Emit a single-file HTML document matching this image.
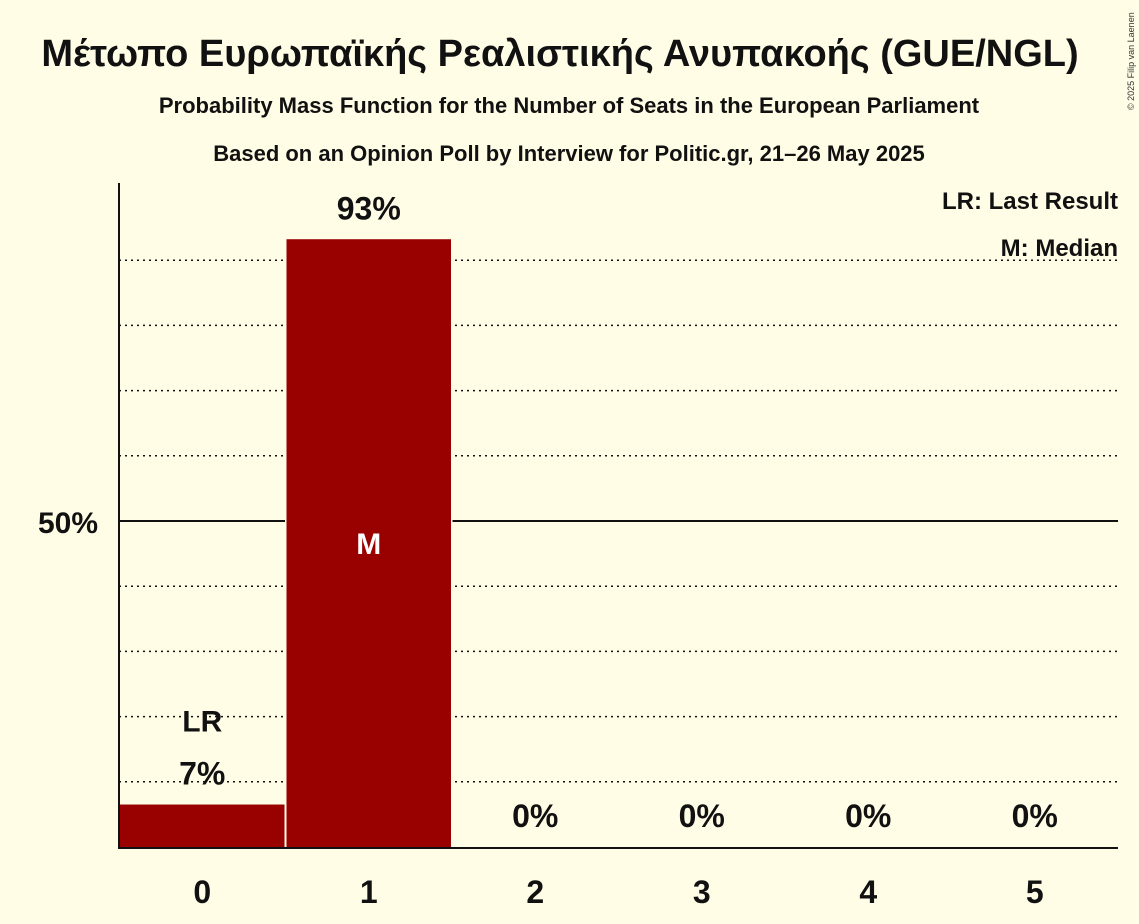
<!DOCTYPE html>
<html><head><meta charset="utf-8"><style>
html,body{margin:0;padding:0;background:#FFFDE6;}
svg{display:block;font-family:"Liberation Sans","DejaVu Sans",sans-serif;}
</style></head><body>
<svg width="1139" height="924" viewBox="0 0 1139 924">
<rect width="1139" height="924" fill="#FFFDE6"/>
<text x="560" y="66" text-anchor="middle" font-size="38" font-weight="bold" fill="#111">Μέτωπο Ευρωπαϊκής Ρεαλιστικής Ανυπακοής (GUE/NGL)</text>
<text x="569" y="113" text-anchor="middle" font-size="22" font-weight="bold" fill="#111">Probability Mass Function for the Number of Seats in the European Parliament</text>
<text x="569" y="161" text-anchor="middle" font-size="22" font-weight="bold" fill="#111">Based on an Opinion Poll by Interview for Politic.gr, 21–26 May 2025</text>
<text transform="translate(1134,110) rotate(-90)" font-size="9" fill="#333">© 2025 Filip van Laenen</text>
<g id="grid"></g>
<g id="bars"></g>
<g id="labels"></g>
<line x1="119" y1="183" x2="119" y2="848" stroke="#111" stroke-width="2"/>
<line x1="118" y1="848" x2="1118" y2="848" stroke="#111" stroke-width="2"/>
<text x="98" y="533" text-anchor="end" font-size="30" font-weight="bold" fill="#111">50%</text>
<g id="xticks"></g>
<text x="1118" y="209" text-anchor="end" font-size="24" font-weight="bold" fill="#111">LR: Last Result</text>
<text x="1118" y="256" text-anchor="end" font-size="24" font-weight="bold" fill="#111">M: Median</text>
</svg>
<script>
const seats = [0, 1, 2, 3, 4, 5];
const probs = [6.5, 93.2, 0, 0, 0, 0];
const labels = ["7%", "93%", "0%", "0%", "0%", "0%"];
const lastResult = 0;
const median = 1;
const NS = "http://www.w3.org/2000/svg";
const x0 = 119, x1 = 1118, y0 = 847, yPer = 6.52;
const slot = (x1 - x0) / seats.length;
const y = v => y0 - v * yPer;
const xs = i => x0 + i * slot;
function mk(tag, attrs, parent) {
  const e = document.createElementNS(NS, tag);
  for (const k in attrs) e.setAttribute(k, attrs[k]);
  parent.appendChild(e);
  return e;
}
const grid = document.getElementById('grid');
for (let p = 10; p <= 90; p += 10) {
  const l = mk('line', {x1: x0, x2: x1, y1: y(p), y2: y(p), stroke: '#111', 'stroke-width': p === 50 ? 2 : 1.5, 'stroke-dasharray': p === 50 ? 'none' : '2,4'}, grid);
  
  
}
const bars = document.getElementById('bars'), lab = document.getElementById('labels'), xt = document.getElementById('xticks');
seats.forEach((s, i) => {
  const v = probs[i];
  if (v > 0) {
    const r = mk('rect', {x: xs(i) + 1, y: y(v), width: slot - 2, height: y0 - y(v), fill: '#990000', stroke: '#FFFDE6', 'stroke-width': 3, 'paint-order': 'stroke'}, bars);
    
    
    mk('rect', {x: xs(i) + 1, y: y(v), width: slot - 2, height: y0 - y(v), fill: '#990000'}, bars);
  }
  const cx = xs(i) + slot / 2;
  const ty = v > 0 ? y(v) - 20 : y0 - 20;
  const t = mk('text', {x: cx, y: ty, 'text-anchor': 'middle', 'font-size': 32, 'font-weight': 'bold', fill: '#111'}, lab);
  t.textContent = labels[i];
  
  
  if (s === lastResult) {
    const lr = mk('text', {x: cx, y: ty - 53, 'text-anchor': 'middle', 'font-size': 30, 'font-weight': 'bold', fill: '#111'}, lab);
    lr.textContent = 'LR';
    
    
  }
  if (s === median) {
    const m = mk('text', {x: cx, y: y(v / 2) + 11, 'text-anchor': 'middle', 'font-size': 30, 'font-weight': 'bold', fill: '#fff'}, lab);
    m.textContent = 'M';
    
    
  }
  const xl = mk('text', {x: cx, y: 903, 'text-anchor': 'middle', 'font-size': 32, 'font-weight': 'bold', fill: '#111'}, xt);
  xl.textContent = s;
  
  
});
</script>
</body></html>
